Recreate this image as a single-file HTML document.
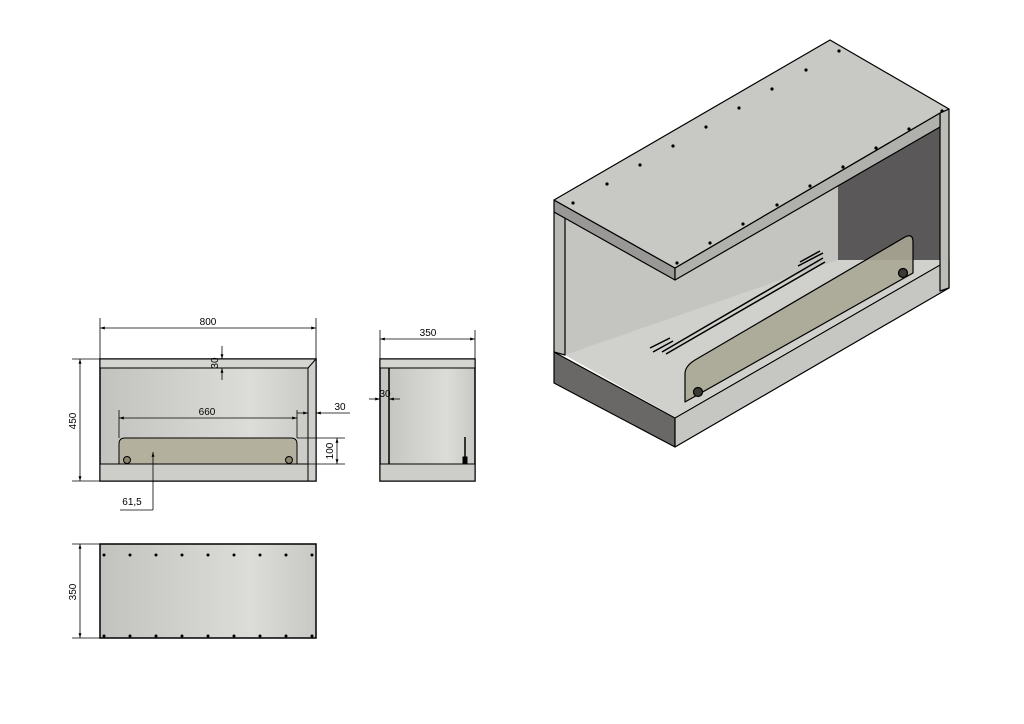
<!DOCTYPE html>
<html><head><style>html,body{margin:0;padding:0;background:#fff}svg{display:block}</style></head><body>
<svg width="1024" height="724" viewBox="0 0 1024 724" xmlns="http://www.w3.org/2000/svg" font-family="Liberation Sans, sans-serif" font-size="10">
<defs>
<linearGradient id="g1" x1="0" x2="1"><stop offset="0" stop-color="#c2c2be"/><stop offset="0.7" stop-color="#dcdcd8"/><stop offset="1" stop-color="#c8c8c4"/></linearGradient>
<marker id="a" viewBox="0 0 10 10" refX="10" refY="5" markerWidth="6" markerHeight="6" orient="auto-start-reverse"><path d="M0,2 L10,5 L0,8z" fill="#000"/></marker>
</defs>
<g stroke="#000" stroke-width="1">
<!-- front view -->
<rect x="100" y="359" width="216" height="122" fill="url(#g1)" stroke-width="1.5"/>
<rect x="100" y="359" width="216" height="9" fill="#d4d4d0"/>
<path d="M308,368 L316,359 L316,481 L308,481z" fill="#cfcfcb"/>
<rect x="100" y="464" width="208" height="17" fill="#cdcdc9"/>
<path d="M119,464 L119,444 Q119,438 125,438 L291,438 Q297,438 297,444 L297,464z" fill="#b3b09e"/>
<circle cx="127" cy="460" r="3.5" fill="#8a8470"/><circle cx="289" cy="460" r="3.5" fill="#8a8470"/>
<g stroke-width="0.8" fill="none">
<line x1="100" y1="318" x2="100" y2="359"/><line x1="316" y1="318" x2="316" y2="359"/>
<line x1="100" y1="328" x2="316" y2="328" marker-start="url(#a)" marker-end="url(#a)"/>
<line x1="72" y1="359" x2="100" y2="359"/><line x1="72" y1="481" x2="100" y2="481"/>
<line x1="80" y1="359" x2="80" y2="481" marker-start="url(#a)" marker-end="url(#a)"/>
<line x1="119" y1="410" x2="119" y2="438"/><line x1="297" y1="410" x2="297" y2="438"/>
<line x1="119" y1="418" x2="297" y2="418" marker-start="url(#a)" marker-end="url(#a)"/>
<line x1="297" y1="413" x2="308" y2="413" marker-end="url(#a)"/><line x1="350" y1="413" x2="316" y2="413" marker-end="url(#a)"/>
<line x1="297" y1="438" x2="345" y2="438"/><line x1="308" y1="464" x2="345" y2="464"/>
<line x1="337" y1="438" x2="337" y2="464" marker-start="url(#a)" marker-end="url(#a)"/>
<line x1="222" y1="346" x2="222" y2="359" marker-end="url(#a)"/><line x1="222" y1="380" x2="222" y2="368" marker-end="url(#a)"/>
<line x1="153" y1="510" x2="153" y2="452" marker-end="url(#a)"/><line x1="120" y1="510" x2="153" y2="510"/>
</g>
<!-- side view -->
<rect x="380" y="359" width="95" height="122" fill="url(#g1)" stroke-width="1.5"/>
<rect x="380" y="359" width="95" height="9" fill="#d4d4d0"/>
<rect x="380" y="464" width="95" height="17" fill="#cdcdc9"/>
<line x1="389" y1="368" x2="389" y2="464" stroke-width="1.5"/>
<line x1="465" y1="437" x2="465" y2="462" stroke-width="1.5"/><rect x="463" y="457" width="4" height="6" fill="#000"/>
<g stroke-width="0.8" fill="none">
<line x1="380" y1="330" x2="380" y2="359"/><line x1="475" y1="330" x2="475" y2="359"/>
<line x1="380" y1="339" x2="475" y2="339" marker-start="url(#a)" marker-end="url(#a)"/>
<line x1="369" y1="399" x2="380" y2="399" marker-end="url(#a)"/><line x1="400" y1="399" x2="389" y2="399" marker-end="url(#a)"/>
</g>
<!-- top view -->
<rect x="100" y="544" width="216" height="94" fill="url(#g1)" stroke-width="1.5"/>
<g stroke-width="0.8" fill="none">
<line x1="72" y1="544" x2="100" y2="544"/><line x1="72" y1="638" x2="100" y2="638"/>
<line x1="80" y1="544" x2="80" y2="638" marker-start="url(#a)" marker-end="url(#a)"/>
</g>
</g>
<g fill="#000">
<circle cx="104" cy="555" r="1.5"/><circle cx="130" cy="555" r="1.5"/><circle cx="156" cy="555" r="1.5"/><circle cx="182" cy="555" r="1.5"/><circle cx="208" cy="555" r="1.5"/><circle cx="234" cy="555" r="1.5"/><circle cx="260" cy="555" r="1.5"/><circle cx="286" cy="555" r="1.5"/><circle cx="312" cy="555" r="1.5"/>
<circle cx="104" cy="636" r="1.5"/><circle cx="130" cy="636" r="1.5"/><circle cx="156" cy="636" r="1.5"/><circle cx="182" cy="636" r="1.5"/><circle cx="208" cy="636" r="1.5"/><circle cx="234" cy="636" r="1.5"/><circle cx="260" cy="636" r="1.5"/><circle cx="286" cy="636" r="1.5"/><circle cx="312" cy="636" r="1.5"/>
</g>
<g fill="#000">
<text x="208" y="325" text-anchor="middle">800</text>
<text transform="translate(76,421) rotate(-90)" text-anchor="middle">450</text>
<text x="207" y="415" text-anchor="middle">660</text>
<text x="340" y="410" text-anchor="middle">30</text>
<text transform="translate(333,451) rotate(-90)" text-anchor="middle">100</text>
<text transform="translate(218,363) rotate(-90)" text-anchor="middle">30</text>
<text x="132" y="505" text-anchor="middle">61,5</text>
<text x="428" y="336" text-anchor="middle">350</text>
<text x="385" y="397" text-anchor="middle">30</text>
<text transform="translate(76,592) rotate(-90)" text-anchor="middle">350</text>
</g>
<!-- iso view -->
<g stroke="#000" stroke-width="1.2" stroke-linejoin="round">
<path d="M554,212 L565,218 L838,175 L940,125 L940,262 L675,417 L565,355 L554,352z" fill="#c4c4c0" stroke="none"/>
<path d="M838,180 L940,126 L940,262 L838,262z" fill="#5a5858" stroke="none"/>
<path d="M565,355 L675,417 L940,264 L940,260 L838,260 L565,355z" fill="#d0d0cc" stroke="none"/>
<path d="M554,212 L565,218 L565,355 L554,352z" fill="#b8b8b4"/>
<path d="M554,352 L675,418 L675,447 L554,383z" fill="#6a6866"/>
<path d="M675,418 L940,265 L949,260 L949,288 L675,447z" fill="#c6c6c2"/>
<path d="M940,113 L949,109 L949,288 L940,291z" fill="#bcbcb8"/>
<path d="M554,200 L675,268 L675,280 L554,212z" fill="#9a9896"/>
<path d="M675,268 L940,113 L940,127 L675,280z" fill="#b0b0ac"/>
<path d="M554,200 L830,40 L949,109 L940,113 L675,268z" fill="#c8c8c4"/>
<g fill="none" stroke-width="1.5">
<line x1="650" y1="348" x2="670" y2="338"/><line x1="653" y1="352" x2="673" y2="341"/>
<line x1="662" y1="352" x2="823" y2="258"/><line x1="666" y1="354" x2="825" y2="262"/>
<line x1="800" y1="262" x2="820" y2="251"/><line x1="798" y1="266" x2="823" y2="253"/>
</g>
<path d="M685,402 L685,374 Q685,366 695,360 L905,237 Q913,233 913,242 L913,273 z" fill="#a9a693" fill-opacity="0.9"/>
<circle cx="698" cy="392" r="4.5" fill="#3a3a36"/><circle cx="903" cy="273" r="4.5" fill="#3a3a36"/>
</g>
<g fill="#000">
<circle cx="573" cy="203" r="1.6"/><circle cx="607" cy="184" r="1.6"/><circle cx="640" cy="165" r="1.6"/><circle cx="673" cy="146" r="1.6"/><circle cx="706" cy="127" r="1.6"/><circle cx="739" cy="108" r="1.6"/><circle cx="772" cy="89" r="1.6"/><circle cx="806" cy="70" r="1.6"/><circle cx="839" cy="51" r="1.6"/>
<circle cx="677" cy="263" r="1.6"/><circle cx="710" cy="243" r="1.6"/><circle cx="743" cy="224" r="1.6"/><circle cx="777" cy="205" r="1.6"/><circle cx="810" cy="186" r="1.6"/><circle cx="843" cy="167" r="1.6"/><circle cx="876" cy="148" r="1.6"/><circle cx="909" cy="129" r="1.6"/><circle cx="942" cy="111" r="1.6"/>
</g>
</svg>
</body></html>
